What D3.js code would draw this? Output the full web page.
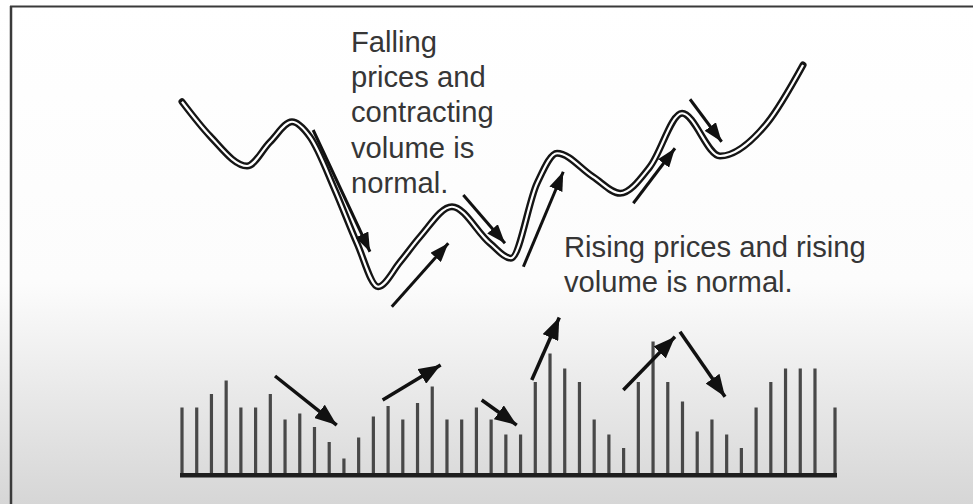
<!DOCTYPE html>
<html>
<head>
<meta charset="utf-8">
<script src="https://cdn.jsdelivr.net/npm/d3@7"></script>
<style>
  html, body { margin: 0; padding: 0; background: #fff; }
  svg { display: block; }
</style>
</head>
<body>
<script>
// ---- data ----
const volumeDays = [0,1,2,3,4,5,6,7,8,9,10,11,12,13,14,15,16,17,18,19,20,21,22,23,24,25,26,27,28,29,30,31,32,33,34,35,36,37,38,39,40,41,42,43,44.36];
const volumeValues = [45,45,54,63,45,45,54,37,41,32,22,11,25,39,46,37,48,59,37,37,45,37,27,27,62,81,71,62,37,27,18,62,89,62,49,29,37,27,18,45,62,71,71,71,45];

const priceDays = [0,1.9,4.42,5.98,7.47,8.7,10.39,11.89,13.32,14.81,16.17,18.34,20.92,22.35,24.12,25.48,27.92,29.76,31.79,33.97,36.55,39.74,42.19];
const priceValues = [79.3,65.6,53.6,63.2,71.3,65.2,44,22.7,5.3,15.2,25.3,37.3,22.7,16.7,46.7,58.7,49.3,42.7,53.3,74.7,57.6,70.7,94];

// price-trend arrows: [startDay, startPrice, endDay, endPrice]
const priceArrows = [
  [8.91, 68, 12.77, 19.3],
  [14.25, -2.7, 18.09, 22.7],
  [19.11, 42, 21.94, 22.7],
  [23.19, 13.3, 25.9, 51.3],
  [30.66, 38.7, 33.49, 60.7],
  [34.51, 80.3, 36.66, 63.3]
];
// volume-trend arrows: [startDay, startVol, endDay, endVol]
const volumeArrows = [
  [6.32, 66, 10.51, 33.3],
  [13.63, 50, 17.57, 73.3],
  [20.36, 50, 22.74, 33.3],
  [23.76, 63.3, 25.63, 105],
  [29.98, 56.7, 33.49, 92.2],
  [33.83, 95.5, 36.89, 52.2]
];

const fallingText = ["Falling", "prices and", "contracting", "volume is", "normal."];
const risingText = ["Rising prices and rising", "volume is normal."];

// ---- drawing ----
const W = 973, H = 504;
const svg = d3.select("body").append("svg").attr("width", W).attr("height", H);
const defs = svg.append("defs");

const grad = defs.append("linearGradient").attr("id", "bg").attr("x1", 0).attr("y1", 0).attr("x2", 0).attr("y2", 1);
grad.append("stop").attr("offset", "0%").attr("stop-color", "#ffffff");
grad.append("stop").attr("offset", "56%").attr("stop-color", "#fcfcfc");
grad.append("stop").attr("offset", "100%").attr("stop-color", "#d6d6d6");

svg.append("rect").attr("width", W).attr("height", H).attr("fill", "url(#bg)");

// frame
svg.append("line").attr("x1", 10).attr("x2", W).attr("y1", 6.5).attr("y2", 6.5)
  .attr("stroke", "#3a3a3a").attr("stroke-width", 2);
svg.append("line").attr("x1", 11).attr("x2", 11).attr("y1", 6).attr("y2", H)
  .attr("stroke", "#3a3a3a").attr("stroke-width", 2.5);

function marker(id, len, wid) {
  defs.append("marker").attr("id", id)
    .attr("markerUnits", "userSpaceOnUse")
    .attr("viewBox", `0 0 ${len} ${wid}`)
    .attr("refX", len).attr("refY", wid / 2)
    .attr("markerWidth", len).attr("markerHeight", wid)
    .attr("orient", "auto")
    .append("path").attr("d", `M0,0 L${len},${wid/2} L0,${wid} Z`).attr("fill", "#111");
}
marker("headBig", 22, 17);
marker("headSmall", 19, 14);

const x = d3.scaleLinear().domain([0, 44.36]).range([182, 835]);
const yVol = d3.scaleLinear().domain([0, 100]).range([475, 325]);
const yPrice = d3.scaleLinear().domain([0, 100]).range([300, 50]);

// volume bars
const vdata = volumeDays.map((d, i) => ({ d, v: volumeValues[i] }));
svg.append("g").selectAll("rect").data(vdata).join("rect")
  .attr("x", p => x(p.d) - 1.6)
  .attr("width", 3.2)
  .attr("y", p => yVol(p.v))
  .attr("height", p => yVol(0) - yVol(p.v))
  .attr("fill", "#484848");

// baseline
svg.append("rect")
  .attr("x", x(0) - 2).attr("width", x(volumeDays[volumeDays.length - 1]) - x(0) + 4)
  .attr("y", yVol(0) - 2).attr("height", 4.5).attr("fill", "#1e1e1e");

// price curve (double line)
const pdata = priceDays.map((d, i) => ({ d, v: priceValues[i] }));
const line = d3.line().x(p => x(p.d)).y(p => yPrice(p.v)).curve(d3.curveMonotoneX);
svg.append("path").attr("d", line(pdata)).attr("fill", "none")
  .attr("stroke", "#151515").attr("stroke-width", 7).attr("stroke-linejoin", "round").attr("stroke-linecap", "round");
svg.append("path").attr("d", line(pdata)).attr("fill", "none")
  .attr("stroke", "#ffffff").attr("stroke-width", 2.2).attr("stroke-linejoin", "round").attr("stroke-linecap", "butt");

// arrows
function drawArrows(list, yS, mk, sw) {
  svg.append("g").selectAll("line").data(list).join("line")
    .attr("x1", a => x(a[0])).attr("y1", a => yS(a[1]))
    .attr("x2", a => x(a[2])).attr("y2", a => yS(a[3]))
    .attr("stroke", "#111").attr("stroke-width", sw)
    .attr("marker-end", `url(#${mk})`);
}
drawArrows(priceArrows, yPrice, "headSmall", 3);
drawArrows(volumeArrows, yVol, "headBig", 3.5);

// text
const font = "'Liberation Sans', Arial, Helvetica, sans-serif";
svg.append("g").selectAll("text").data(fallingText).join("text")
  .attr("x", 351).attr("y", (t, i) => 52 + i * 35.2)
  .attr("font-family", font).attr("font-size", 29.2).attr("fill", "#363636")
  .text(t => t);
svg.append("g").selectAll("text").data(risingText).join("text")
  .attr("x", 564).attr("y", (t, i) => 257 + i * 35)
  .attr("font-family", font).attr("font-size", 29.2).attr("fill", "#363636")
  .text(t => t);
</script>
</body>
</html>
